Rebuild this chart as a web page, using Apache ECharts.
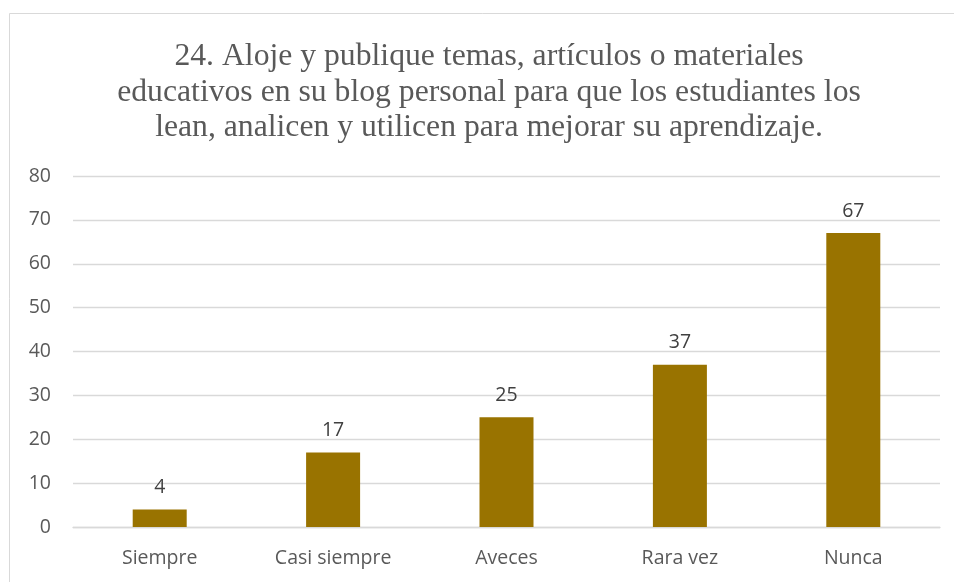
<!DOCTYPE html>
<html>
<head>
<meta charset="utf-8">
<script src="https://cdn.jsdelivr.net/npm/echarts@6/dist/echarts.min.js"></script>
<style>
  html, body { margin: 0; padding: 0; background: #fff; }
  #chart { width: 954px; height: 582px; }
</style>
</head>
<body>
<div id="chart"></div>
<script>
  const TITLE = '24. Aloje y publique temas, artículos o materiales\neducativos en su blog personal para que los estudiantes los\nlean, analicen y utilicen para mejorar su aprendizaje.';
  const categories = ['Siempre', 'Casi siempre', 'Aveces', 'Rara vez', 'Nunca'];
  const values = [4, 17, 25, 37, 67];
  const yTicks = { min: 0, max: 80, interval: 10 };

  const BAR = '#997300';
  const TXT = '#595959';
  const GRID = '#d9d9d9';
  const SANS = '"Open Sans", "Noto Sans", sans-serif';

  const chart = echarts.init(document.getElementById('chart'), null, { renderer: 'canvas' });
  chart.setOption({
    backgroundColor: '#fff',
    animation: false,
    graphic: [{
      type: 'rect', silent: true,
      shape: { x: 9.5, y: 13.5, width: 1000, height: 600 },
      style: { fill: 'none', stroke: GRID, lineWidth: 1 },
    }],
    title: {
      text: TITLE, left: 484, textAlign: 'center', top: 34,
      textStyle: {
        color: TXT, fontFamily: '"Liberation Serif", "Times New Roman", serif',
        fontSize: 31.7, fontWeight: 'normal', lineHeight: 35.5,
      },
    },
    grid: { left: 73, right: 14, top: 176, bottom: 55, containLabel: false },
    xAxis: {
      type: 'category', data: categories,
      axisLine: { lineStyle: { color: GRID, width: 1.3 } },
      axisTick: { show: false },
      axisLabel: { color: TXT, fontFamily: SANS, fontSize: 19.5, margin: 21 },
    },
    yAxis: {
      type: 'value', min: yTicks.min, max: yTicks.max, interval: yTicks.interval,
      axisLine: { show: false }, axisTick: { show: false },
      splitLine: { lineStyle: { color: GRID, width: 1.3 } },
      axisLabel: { color: TXT, fontFamily: SANS, fontSize: 19.5, margin: 22 },
    },
    series: [{
      type: 'bar', data: values, barWidth: 54,
      itemStyle: { color: BAR },
      label: { show: true, position: 'top', distance: 12, color: '#404040', fontFamily: SANS, fontSize: 19.5 },
    }],
  });
</script>
</body>
</html>
